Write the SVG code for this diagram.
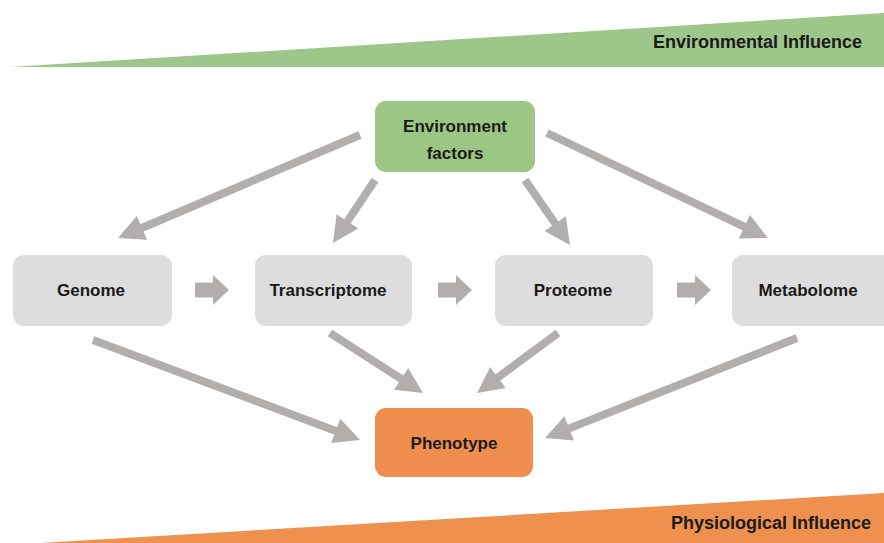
<svg xmlns="http://www.w3.org/2000/svg" width="884" height="543" viewBox="0 0 884 543">
  <style>
    .lbl { font-family: "Liberation Sans", Arial, sans-serif; font-weight: bold; fill: #1a1a1a; text-anchor: middle; }
    .node { font-size: 17px; }
    .band { font-size: 18px; text-anchor: end; }
    .gray { fill: #dddddd; }
    .conn { stroke: #b2aeae; stroke-width: 8; fill: none; marker-end: url(#head); }
    .block { fill: #b2aeae; }
  </style>
  <defs>
    <marker id="head" markerUnits="userSpaceOnUse" viewBox="-8 -15 30 30" markerWidth="30" markerHeight="30" refX="0" refY="0" orient="auto">
      <path d="M-6,-13 L20,0 L-6,13 z" fill="#b2aeae"/>
    </marker>
    <path id="blockArrow" d="M0,-7.5 H18 V-15 L34,0 L18,15 V7.5 H0 z"/>
  </defs>

  <rect width="884" height="543" fill="#ffffff"/>

  <!-- influence bands -->
  <g id="band-environmental">
    <polygon points="10,67 884,13 884,67" fill="#9dc68a"/>
    <text class="lbl band" x="862" y="48">Environmental Influence</text>
  </g>
  <g id="band-physiological">
    <polygon points="40,543 884,493 884,543" fill="#ee914f"/>
    <text class="lbl band" x="871" y="529">Physiological Influence</text>
  </g>

  <!-- connectors -->
  <g id="connectors">
    <line class="conn" x1="360" y1="135" x2="136.4" y2="230.2"/>
    <line class="conn" x1="375" y1="180" x2="344.1" y2="226.4"/>
    <line class="conn" x1="525" y1="180" x2="558.6" y2="228.6"/>
    <line class="conn" x1="547" y1="133" x2="749.9" y2="229.4"/>
    <line class="conn" x1="93" y1="340" x2="341.3" y2="433"/>
    <line class="conn" x1="330" y1="333" x2="406.2" y2="382.2"/>
    <line class="conn" x1="558" y1="333" x2="493.1" y2="381.1"/>
    <line class="conn" x1="797" y1="338" x2="563.6" y2="430.6"/>
    <use href="#blockArrow" class="block" x="195" y="290"/>
    <use href="#blockArrow" class="block" x="438" y="290"/>
    <use href="#blockArrow" class="block" x="677" y="290"/>
  </g>

  <!-- nodes -->
  <g id="environment-factors">
    <rect x="375" y="101" width="160" height="71" rx="11" fill="#9cc683"/>
    <text class="lbl node" x="455" y="132">Environment</text>
    <text class="lbl node" x="455" y="159">factors</text>
  </g>
  <g id="genome">
    <rect class="gray" x="13" y="255" width="159" height="71" rx="11"/>
    <text class="lbl node" x="91" y="296">Genome</text>
  </g>
  <g id="transcriptome">
    <rect class="gray" x="255" y="255" width="157" height="71" rx="11"/>
    <text class="lbl node" x="328" y="296">Transcriptome</text>
  </g>
  <g id="proteome">
    <rect class="gray" x="495" y="255" width="158" height="71" rx="11"/>
    <text class="lbl node" x="573" y="296">Proteome</text>
  </g>
  <g id="metabolome">
    <rect class="gray" x="732" y="255" width="165" height="71" rx="11"/>
    <text class="lbl node" x="808" y="296">Metabolome</text>
  </g>
  <g id="phenotype">
    <rect x="375" y="408" width="158" height="69" rx="11" fill="#ef8e4e"/>
    <text class="lbl node" x="454" y="449">Phenotype</text>
  </g>
</svg>
